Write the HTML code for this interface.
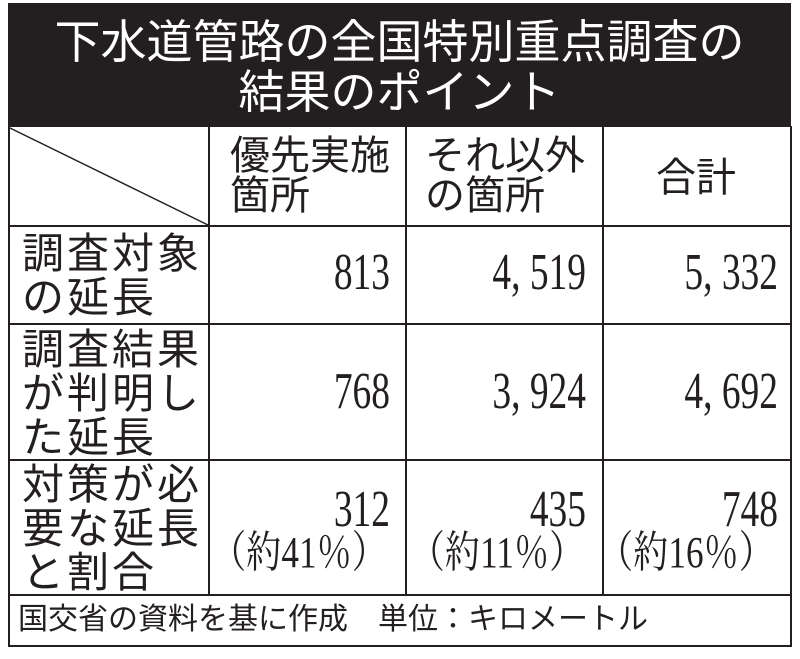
<!DOCTYPE html>
<html><head><meta charset="utf-8"><style>
body{margin:0;background:#fff;width:800px;height:659px;position:relative;overflow:hidden;font-family:"Liberation Sans","Noto Sans CJK JP",sans-serif;color:#231f20}
.a{position:absolute;white-space:nowrap}
.band{position:absolute;left:8px;top:3px;width:783px;height:124px;background:#231f20}
.t{position:absolute;left:8px;width:783px;text-align:center;color:#fff;font-size:46px;line-height:48px}
.h{font-size:40px;line-height:40px}
.l{font-size:42px;line-height:44px;letter-spacing:3px}
.n{font-family:"Liberation Serif","Noto Serif CJK SC",serif;font-size:52px;line-height:52px;transform:scaleX(0.72);transform-origin:right center;text-align:right}
.p{font-family:"Liberation Serif","Noto Serif CJK JP",serif;font-size:44px;line-height:44px;transform:scaleX(0.8);transform-origin:right center;text-align:right}
.hl{position:absolute;height:2px;background:#231f20}
.vl{position:absolute;width:2px;background:#231f20}
</style></head><body>
<div class="band"></div>
<div class="t" style="top:18px">下水道管路の全国特別重点調査の</div>
<div class="t" style="top:68px">結果のポイント</div>
<div class="vl" style="left:8px;top:126px;height:521px"></div>
<div class="vl" style="left:790px;top:126px;height:521px"></div>
<div class="vl" style="left:208px;top:126px;height:469px"></div>
<div class="vl" style="left:405px;top:126px;height:469px"></div>
<div class="vl" style="left:602px;top:126px;height:469px"></div>
<div class="hl" style="left:8px;top:225px;width:784px"></div>
<div class="hl" style="left:8px;top:323px;width:784px"></div>
<div class="hl" style="left:8px;top:459px;width:784px"></div>
<div class="hl" style="left:8px;top:594px;width:784px"></div>
<div class="hl" style="left:8px;top:645px;width:784px"></div>
<svg class="a" style="left:8px;top:126px" width="202" height="100"><line x1="2" y1="2" x2="200" y2="99" stroke="#231f20" stroke-width="1.5"/></svg>
<div class="a h" style="left:230px;top:136px">優先実施<br>箇所</div>
<div class="a h" style="left:425px;top:136px">それ以外<br>の箇所</div>
<div class="a h" style="left:656px;top:158px">合計</div>
<div class="a l" style="left:22px;top:232px">調査対象<br>の延長</div>
<div class="a l" style="left:22px;top:328px">調査結果<br>が判明し<br>た延長</div>
<div class="a l" style="left:22px;top:463px">対策が必<br>要な延長<br>と割合</div>
<div class="a n" style="right:410px;top:247px">813</div>
<div class="a n" style="right:214px;top:247px">4, 519</div>
<div class="a n" style="right:22px;top:247px">5, 332</div>
<div class="a n" style="right:410px;top:366px">768</div>
<div class="a n" style="right:214px;top:366px">3, 924</div>
<div class="a n" style="right:22px;top:366px">4, 692</div>
<div class="a n" style="right:410px;top:484px">312</div>
<div class="a n" style="right:214px;top:484px">435</div>
<div class="a n" style="right:22px;top:484px">748</div>
<div class="a p" style="right:413px;top:531px">（約41％）</div>
<div class="a p" style="right:216px;top:531px">（約11％）</div>
<div class="a p" style="right:26px;top:531px">（約16％）</div>
<div class="a" style="left:18px;top:603px;font-size:30px;line-height:34px">国交省の資料を基に作成　単位：キロメートル</div>
</body></html>
